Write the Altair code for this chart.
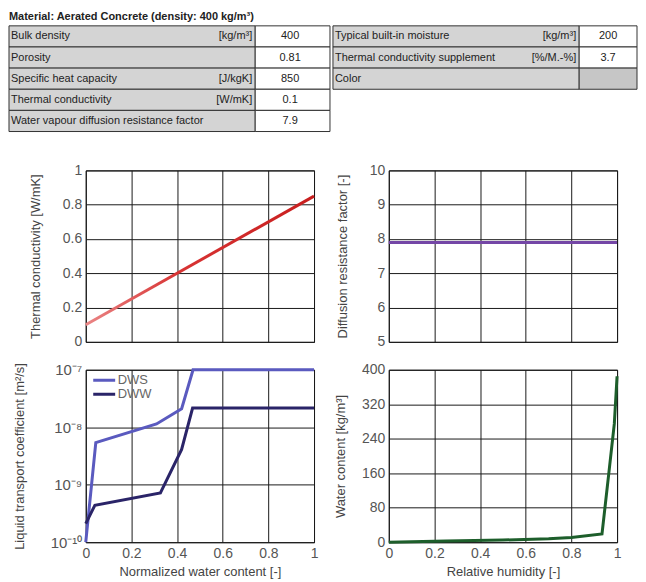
import json
import altair as alt
import pandas as pd

# ---------------- data ----------------
table_title = "Material: Aerated Concrete (density: 400 kg/m³)"
left_labels = ["Bulk density", "Porosity", "Specific heat capacity",
               "Thermal conductivity", "Water vapour diffusion resistance factor"]
left_units = ["[kg/m³]", "", "[J/kgK]", "[W/mK]", ""]
left_values = ["400", "0.81", "850", "0.1", "7.9"]
right_labels = ["Typical built-in moisture", "Thermal conductivity supplement", "Color"]
right_units = ["[kg/m³]", "[%/M.-%]", ""]
right_values = ["200", "3.7", ""]

tc_x = [0.0, 1.0]
tc_y = [0.1, 0.85]

mu_x = [0.0, 1.0]
mu_y = [7.9, 7.9]

dws_x = [0.0, 0.044, 0.31, 0.42, 0.47, 1.0]
dws_y = [1.0e-10, 5.4e-9, 1.14e-8, 2.1e-8, 1.0e-7, 1.0e-7]
dww_x = [0.0, 0.04, 0.327, 0.42, 0.468, 1.0]
dww_y = [2.1e-10, 4.4e-10, 7.2e-10, 4.1e-9, 2.16e-8, 2.16e-8]

rh_x = [0.0, 0.25, 0.5, 0.7, 0.8, 0.934, 0.966, 0.988, 1.0]
wc_y = [0, 3, 5, 8, 11, 19, 170, 275, 385]

unit_ticks = [0, 0.2, 0.4, 0.6, 0.8, 1.0]
mu_ticks = [5, 6, 7, 8, 9, 10]
log_ticks = [1e-10, 1e-9, 1e-8, 1e-7]
log_tick_labels = ["10⁻¹⁰", "10⁻⁹", "10⁻⁸", "10⁻⁷"]
wc_ticks = [0, 80, 160, 240, 320, 400]

# ---------------- layout (page pixels) ----------------
PW, PH = 229, 172
GAP_X, GAP_Y = 75, 28
FONT = "Liberation Sans"
ROW_TOP, ROW_H = 24, 21.2
L_X = [8, 255, 330]
R_X = [333, 580, 638]
L_UNIT_X, L_VAL_X = 252, 290
R_UNIT_X, R_VAL_X = 577, 609
LABEL_FILL, VALUE_FILL, SWATCH_FILL = "#d4d4d4", "#ffffff", "#c6c6c6"
TAB_TOP, TAB_BOTTOM = 8, 141
LEFT_PLOT_X = 85
RIGHT_PLOT_X = LEFT_PLOT_X + PW + GAP_X


def build_table(labels, units, values, xs, unit_x, val_x, swatch_row=None):
    rects, tl_, tr_, tc_ = [], [], [], []
    for i, (lab, un, val) in enumerate(zip(labels, units, values)):
        y0 = ROW_TOP + i * ROW_H
        y1 = y0 + ROW_H
        yc = (y0 + y1) / 2
        rects.append(dict(x0=xs[0], x1=xs[1], y0=y0, y1=y1, fill=LABEL_FILL))
        rects.append(dict(x0=xs[1], x1=xs[2], y0=y0, y1=y1,
                          fill=SWATCH_FILL if i == swatch_row else VALUE_FILL))
        tl_.append(dict(x=xs[0] + 2, y=yc, t=lab))
        if un:
            tr_.append(dict(x=unit_x, y=yc, t=un))
        if val:
            tc_.append(dict(x=val_x, y=yc, t=val))
    return rects, tl_, tr_, tc_


def table_chart(plot_x, parts, title=None):
    rects, tl_, tr_, tc_ = parts
    xs = alt.Scale(domain=[plot_x, plot_x + PW], nice=False, zero=False)
    ys = alt.Scale(domain=[TAB_TOP, TAB_BOTTOM], nice=False, zero=False, reverse=True)

    def txt(rows, align, weight="normal"):
        return alt.Chart(pd.DataFrame(rows)).mark_text(
            align=align, baseline="middle", font=FONT, fontSize=11,
            fontWeight=weight, color="#222222"
        ).encode(x=alt.X("x:Q", scale=xs, axis=None),
                 y=alt.Y("y:Q", scale=ys, axis=None), text="t:N")

    layers = [
        alt.Chart(pd.DataFrame(rects)).mark_rect(stroke="#333333", strokeWidth=1).encode(
            x=alt.X("x0:Q", scale=xs, axis=None), x2="x1:Q",
            y=alt.Y("y0:Q", scale=ys, axis=None), y2="y1:Q",
            fill=alt.Fill("fill:N", scale=None)),
        txt(tl_, "left"), txt(tr_, "right"), txt(tc_, "center"),
    ]
    if title:
        layers.append(txt([dict(x=8, y=15, t=title)], "left", "bold"))
    return alt.layer(*layers).properties(
        width=PW, height=TAB_BOTTOM - TAB_TOP,
        view=alt.ViewBackground(stroke="transparent"))


tab_left = table_chart(LEFT_PLOT_X, build_table(left_labels, left_units, left_values,
                                                L_X, L_UNIT_X, L_VAL_X), table_title)
tab_right = table_chart(RIGHT_PLOT_X, build_table(right_labels, right_units, right_values,
                                                  R_X, R_UNIT_X, R_VAL_X, swatch_row=2))

# ---------------- plots ----------------
x_hidden = alt.Axis(values=unit_ticks, labels=False, ticks=False, title=None, grid=True)


def x_shown(title):
    return alt.Axis(values=unit_ticks, format="~r", title=title, grid=True, titlePadding=5)


def y_axis(values, title, pad=20):
    return alt.Axis(values=values, format="~r", title=title, grid=True, titlePadding=pad)


unit_scale = alt.Scale(domain=[0, 1], nice=False, zero=False)

red_grad = alt.Gradient(
    gradient="linear", x1=0, x2=1, y1=0, y2=0,
    stops=[alt.GradientStop(color="#ea8585", offset=0),
           alt.GradientStop(color="#d83434", offset=0.4),
           alt.GradientStop(color="#c81e1e", offset=1)])

tl = alt.Chart(pd.DataFrame({"x": tc_x, "y": tc_y})).mark_line(
    strokeWidth=3, color=red_grad).encode(
    x=alt.X("x:Q", scale=unit_scale, axis=x_hidden),
    y=alt.Y("y:Q", scale=alt.Scale(domain=[0, 1], nice=False),
            axis=y_axis(unit_ticks, "Thermal conductivity [W/mK]")),
).properties(width=PW, height=PH)

tr = alt.Chart(pd.DataFrame({"x": mu_x, "y": mu_y})).mark_line(
    strokeWidth=3, color="#7446a6").encode(
    x=alt.X("x:Q", scale=unit_scale, axis=x_hidden),
    y=alt.Y("y:Q", scale=alt.Scale(domain=[5, 10], nice=False, zero=False),
            axis=y_axis(mu_ticks, "Diffusion resistance factor [-]")),
).properties(width=PW, height=PH)

lt_df = pd.concat([
    pd.DataFrame({"x": dws_x, "y": dws_y, "s": "DWS", "o": range(len(dws_x))}),
    pd.DataFrame({"x": dww_x, "y": dww_y, "s": "DWW", "o": range(len(dww_x))}),
])
label_expr = json.dumps(log_tick_labels, ensure_ascii=False) + \
    "[round(log(datum.value)/LN10)+10]"

bl = alt.Chart(lt_df).mark_line(strokeWidth=3).encode(
    x=alt.X("x:Q", scale=unit_scale, axis=x_shown("Normalized water content [-]")),
    y=alt.Y("y:Q", scale=alt.Scale(type="log", domain=[1e-10, 1e-7], nice=False),
            axis=alt.Axis(values=log_ticks, labelExpr=label_expr, grid=True,
                          labelFontSize=15, titlePadding=24,
                          title="Liquid transport coefficient [m²/s]")),
    color=alt.Color("s:N", scale=alt.Scale(domain=["DWS", "DWW"],
                                           range=["#5a5abf", "#2a2468"]),
                    legend=alt.Legend(title=None, orient="none", legendX=6, legendY=5,
                                      symbolType="stroke", symbolSize=484,
                                      symbolStrokeWidth=3, labelFontSize=13,
                                      labelColor="#666666", labelFont=FONT,
                                      clipHeight=11, rowPadding=0, padding=0,
                                      labelOffset=1)),
    order="o:Q",
).properties(width=PW, height=PH + 1)

br = alt.Chart(pd.DataFrame({"x": rh_x, "y": wc_y})).mark_line(
    strokeWidth=3, color="#1d5e2b").encode(
    x=alt.X("x:Q", scale=unit_scale, axis=x_shown("Relative humidity [-]")),
    y=alt.Y("y:Q", scale=alt.Scale(domain=[0, 400], nice=False),
            axis=y_axis(wc_ticks, "Water content [kg/m³]", pad=14)),
).properties(width=PW, height=PH + 1)

chart = alt.concat(
    tab_left, tab_right, tl, tr, bl, br, columns=2,
    spacing={"row": GAP_Y, "column": GAP_X}, bounds="flush",
).resolve_legend(color="independent").properties(
    padding=0, background="white"
).configure_view(stroke="#111111", strokeWidth=1).configure_axis(
    domain=False, ticks=False, gridColor="#1a1a1a", gridWidth=1, gridOpacity=1,
    labelFont=FONT, labelFontSize=14, labelColor="#555555", labelPadding=4,
    labelFlush=False, labelOverlap=False,
    titleFont=FONT, titleFontSize=13, titleColor="#444444", titleFontWeight="normal",
)

chart.save("out.html", embed_options={"renderer": "svg", "actions": False})
